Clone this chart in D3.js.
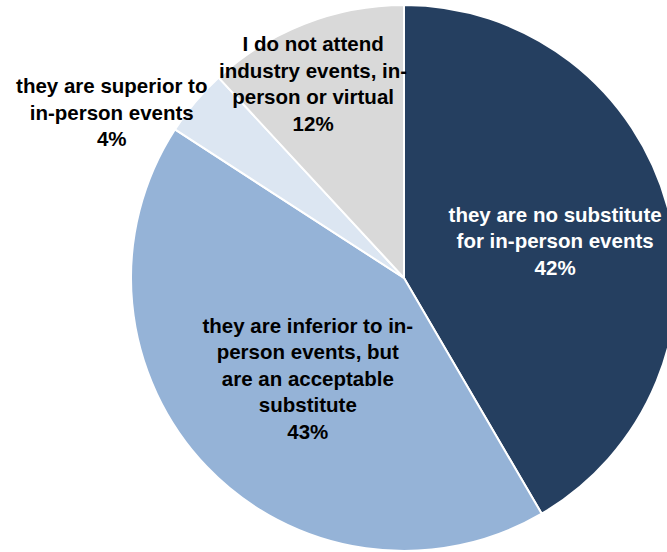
<!DOCTYPE html>
<html>
<head>
<meta charset="utf-8">
<script src="https://cdn.jsdelivr.net/npm/d3@7"></script>
<style>
  html, body { margin: 0; padding: 0; background: #fff; }
  svg { display: block; }
  text { font-family: "Liberation Sans", Arial, sans-serif; font-weight: bold; }
</style>
</head>
<body>
<svg id="chart" width="667" height="552"></svg>
<script>
// Survey answers: how virtual industry events compare with in-person ones
const categories = [
  "they are no substitute for in-person events",
  "they are inferior to in-person events, but are an acceptable substitute",
  "they are superior to in-person events",
  "I do not attend industry events, in-person or virtual"
];
const shares = [42, 43, 4, 12];
const labelLines = [
  ["they are no substitute", "for in-person events"],
  ["they are inferior to in-", "person events, but", "are an acceptable", "substitute"],
  ["they are superior to", "in-person events"],
  ["I do not attend", "industry events, in-", "person or virtual"]
];
const sliceColors = ["#253f60", "#95b3d7", "#dce6f2", "#d9d9d9"];
const labelColors = ["#ffffff", "#000000", "#000000", "#000000"];

// Label anchor per slice: polar angle (degrees clockwise from 12 o'clock) and radius factor
const labelAnchor = [
  { angle: 76.2, r: 0.57 },
  { angle: 223.7, r: 0.51 },
  { angle: 299.5, r: 1.23 },
  { angle: 334.9, r: 0.785 }
];

const svg = d3.select("#chart");
const cx = 404, cy = 278, R = 273;
const g = svg.append("g").attr("transform", `translate(${cx},${cy})`);

const pie = d3.pie().sort(null).value(d => d);
const arcs = pie(shares);
const arc = d3.arc().innerRadius(0).outerRadius(R);

g.selectAll("path.slice")
  .data(arcs)
  .join("path")
  .attr("class", "slice")
  .attr("d", arc)
  .attr("fill", (d, i) => sliceColors[i])
  .attr("stroke", "#ffffff")
  .attr("stroke-width", 2)
  .attr("stroke-linejoin", "round");

const fontSize = 20.5, lineH = 26.5;
arcs.forEach((d, i) => {
  const a = labelAnchor[i].angle * Math.PI / 180;
  const rr = labelAnchor[i].r * R;
  const x = rr * Math.sin(a), y = -rr * Math.cos(a);
  const lines = labelLines[i].concat([d.data + "%"]);
  const t = g.append("text")
    .attr("text-anchor", "middle")
    .attr("fill", labelColors[i])
    .attr("font-size", fontSize);
  const y0 = y - (lines.length - 1) * lineH / 2;
  lines.forEach((ln, k) => {
    t.append("tspan")
      .attr("x", x)
      .attr("y", y0 + k * lineH)
      .attr("dy", "0.35em")
      .text(ln);
  });
});
</script>
</body>
</html>
